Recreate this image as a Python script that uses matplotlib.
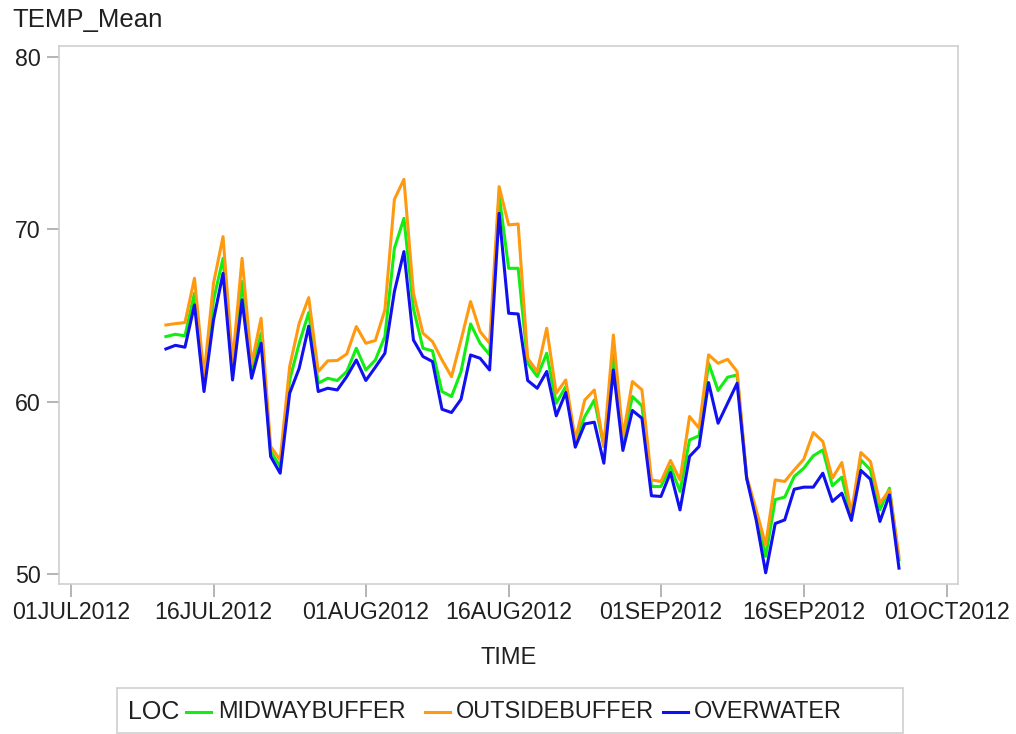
import matplotlib
matplotlib.use("Agg")
import matplotlib.pyplot as plt
import matplotlib.dates as mdates
from matplotlib.lines import Line2D
from matplotlib.patches import Rectangle
import pandas as pd

plt.rcParams['font.family'] = ['Liberation Sans', 'DejaVu Sans']

# daily means, 11JUL2012 .. 26SEP2012
start_date = '2012-07-11'
n_days = 78

midway = [63.78, 63.91, 63.82, 66.29, 61.0, 65.90, 68.32, 61.8, 66.97, 61.8,
          63.97, 57.11, 56.24, 61.26, 63.39, 65.17, 61.07, 61.36, 61.23, 61.75,
          63.10, 61.84, 62.42, 63.78, 68.90, 70.64, 65.40, 63.10, 62.95, 60.59,
          60.30, 61.75, 64.51, 63.39, 62.72, 72.00, 67.74, 67.74, 62.23, 61.46,
          62.81, 59.91, 60.88, 57.69, 59.14, 60.10, 57.40, 62.72, 57.78, 60.30,
          59.76, 55.08, 55.08, 56.24, 54.79, 57.78, 58.02, 62.23, 60.65, 61.42,
          61.55, 55.56, 53.53, 51.02, 54.32, 54.46, 55.66, 56.14, 56.86, 57.20,
          55.12, 55.62, 53.34, 56.62, 56.04, 53.73, 54.98, 50.82]

outside = [64.45, 64.53, 64.59, 67.16, 61.5, 66.87, 69.58, 62.3, 68.32, 62.2,
           64.84, 57.40, 56.62, 62.04, 64.55, 66.04, 61.75, 62.37, 62.39, 62.77,
           64.36, 63.39, 63.55, 65.32, 71.74, 72.90, 66.29, 63.97, 63.49, 62.42,
           61.45, 63.58, 65.81, 64.07, 63.39, 72.48, 70.26, 70.31, 62.52, 61.75,
           64.26, 60.49, 61.26, 57.78, 60.10, 60.68, 57.40, 63.87, 57.98, 61.17,
           60.69, 55.46, 55.37, 56.59, 55.46, 59.14, 58.46, 62.72, 62.23, 62.46,
           61.75, 55.66, 53.72, 51.69, 55.46, 55.37, 56.04, 56.66, 58.21, 57.69,
           55.56, 56.47, 53.53, 57.05, 56.53, 54.11, 54.88, 51.02]

overwater = [63.06, 63.27, 63.16, 65.62, 60.59, 64.74, 67.45, 61.26, 65.91, 61.36,
             63.39, 56.82, 55.85, 60.49, 61.94, 64.38, 60.59, 60.78, 60.68, 61.46,
             62.42, 61.23, 62.00, 62.81, 66.39, 68.71, 63.58, 62.62, 62.33, 59.56,
             59.37, 60.14, 62.71, 62.52, 61.84, 70.93, 65.13, 65.09, 61.23, 60.78,
             61.75, 59.18, 60.53, 57.36, 58.71, 58.81, 56.43, 61.84, 57.17, 59.49,
             59.04, 54.54, 54.50, 55.89, 53.72, 56.82, 57.40, 61.11, 58.75, 59.91,
             61.07, 55.56, 53.14, 50.07, 52.93, 53.14, 54.92, 55.04, 55.04, 55.85,
             54.21, 54.69, 53.11, 56.01, 55.50, 53.05, 54.59, 50.34]

series_names = ['MIDWAYBUFFER', 'OUTSIDEBUFFER', 'OVERWATER']
series_colors = ['#11ee11', '#ff9a10', '#1010f0']

tick_dates = ['2012-07-01', '2012-07-16', '2012-08-01', '2012-08-16',
              '2012-09-01', '2012-09-16', '2012-10-01']
y_ticks = [50, 60, 70, 80]

dates = pd.date_range(start_date, periods=n_days, freq='D')

fig = plt.figure(figsize=(10.16, 7.34), dpi=100)
ax = fig.add_axes([59 / 1016, 150 / 734, 899 / 1016, 538 / 734])

for vals, name, col in zip([midway, outside, overwater], series_names, series_colors):
    ax.plot(dates, vals, color=col, lw=2.2, label=name)

t0 = mdates.date2num(pd.Timestamp('2012-07-01'))
ax.set_xlim(t0 - 1.23, t0 + 93.2)
ax.set_ylim(49.42, 80.64)

ax.set_xticks(pd.to_datetime(tick_dates))
ax.xaxis.set_major_formatter(plt.FuncFormatter(
    lambda v, p: mdates.num2date(v).strftime('%d%b%Y').upper()))
ax.set_yticks(y_ticks)

for s in ax.spines.values():
    s.set_color('#cfcfcf')
    s.set_linewidth(1.2)

ax.tick_params(axis='both', direction='out', length=9, width=1.1, color='#a0a0a0',
               labelsize=16.7, labelcolor='#202020')
ax.tick_params(axis='x', pad=3)
ax.tick_params(axis='y', pad=4)

ax.set_xlabel('TIME', fontsize=17, color='#202020', labelpad=17)
fig.text(12 / 1016, 1 - 20 / 734, 'TEMP_Mean', fontsize=18.5, color='#202020',
         ha='left', va='center')

# legend box at the bottom
fig.patches.append(Rectangle((117 / 1016, 1 / 734), 786 / 1016, 45 / 734,
                             transform=fig.transFigure, fill=False,
                             edgecolor='#cfcfcf', lw=1.2))
ly = 1 - 712 / 734
fig.text(128 / 1016, ly, 'LOC', fontsize=18, color='#202020', va='center')
seg_x = [186, 425, 663]
text_x = [218, 456, 694]
for name, col, sx, tx in zip(series_names, series_colors, seg_x, text_x):
    fig.lines.append(Line2D([sx / 1016, (sx + 25) / 1016], [ly, ly],
                            transform=fig.transFigure, color=col, lw=2.2))
    fig.text(tx / 1016, ly, name, fontsize=16.9, color='#202020', va='center')

fig.savefig('out.png', dpi=100)
